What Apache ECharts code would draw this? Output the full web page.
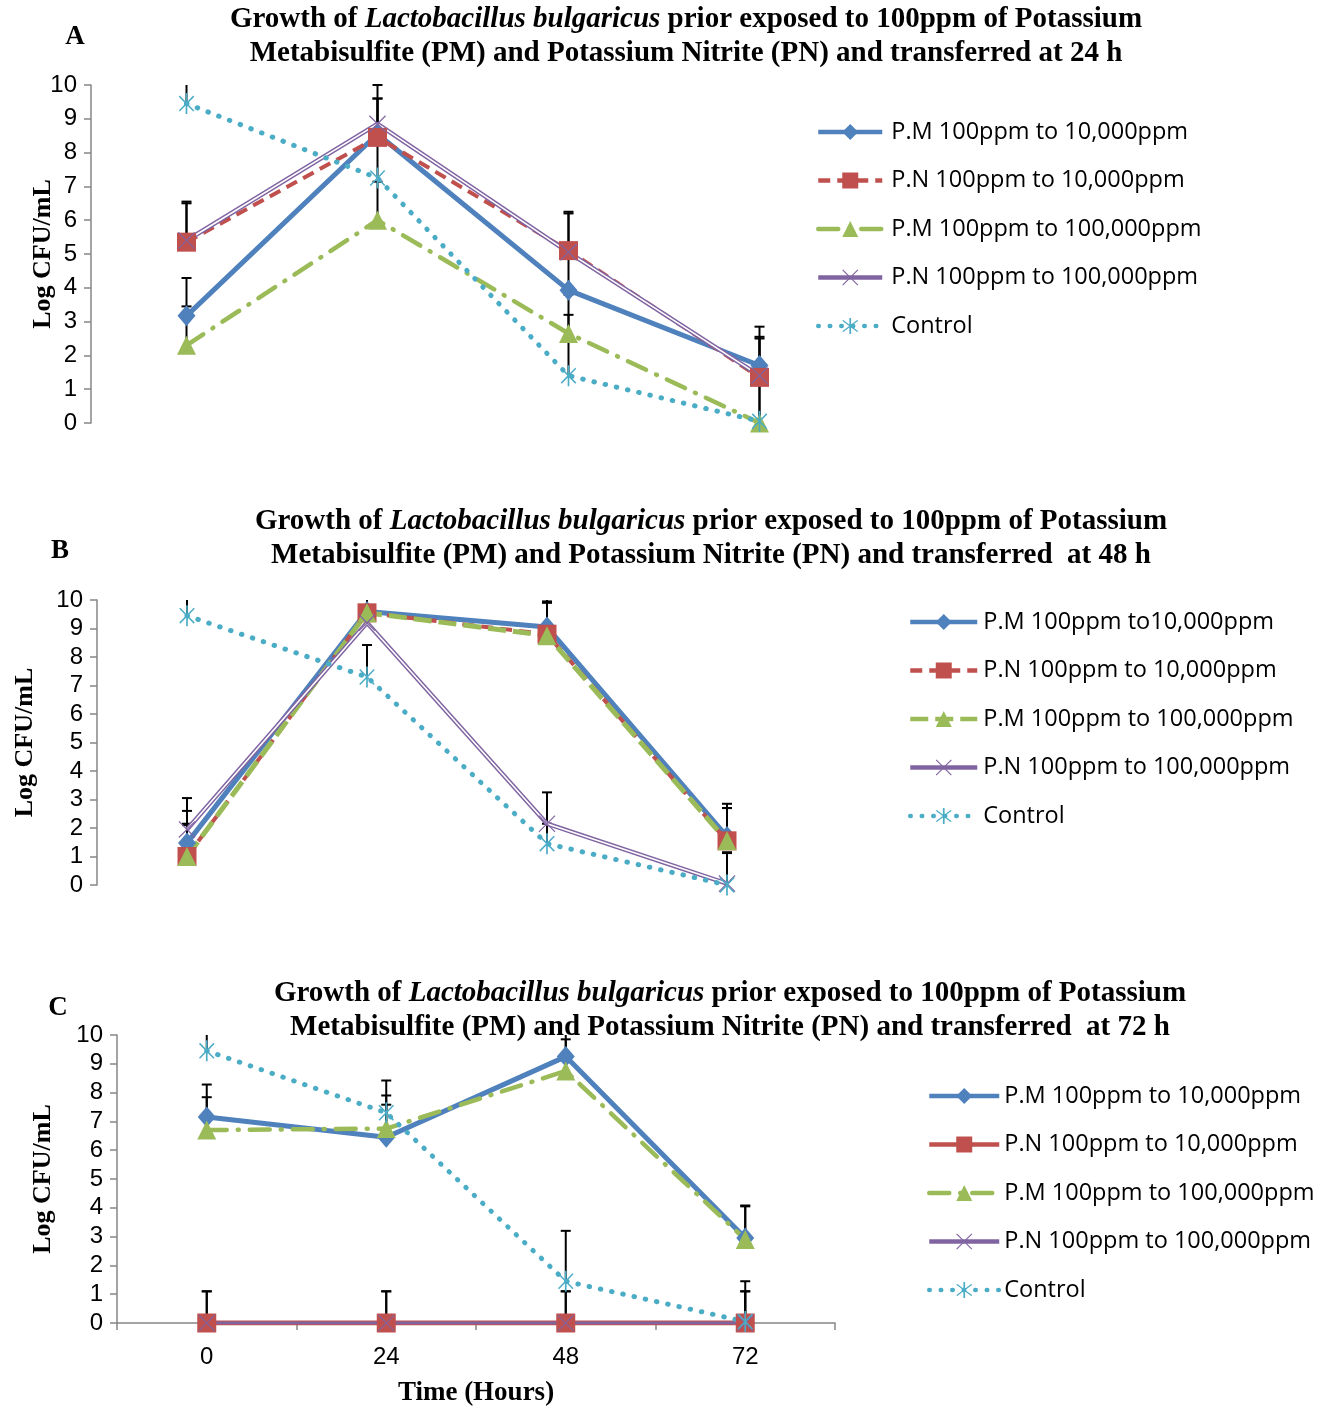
<!DOCTYPE html>
<html>
<head>
<meta charset="utf-8">
<script src="https://cdn.jsdelivr.net/npm/echarts@6/dist/echarts.min.js"></script>
<style>
  html, body { margin: 0; padding: 0; background: #fff; }
  #chart { width: 1332px; height: 1408px; }
</style>
</head>
<body>
<div id="chart"></div>
<script>
const hours = ['0', '24', '48', '72']
const yTicks = [0, 1, 2, 3, 4, 5, 6, 7, 8, 9, 10]

const namesA = ['P.M 100ppm to 10,000ppm', 'P.N 100ppm to 10,000ppm', 'P.M 100ppm to 100,000ppm', 'P.N 100ppm to 100,000ppm', 'Control']
const namesB = ['P.M 100ppm to10,000ppm', 'P.N 100ppm to 10,000ppm', 'P.M 100ppm to 100,000ppm', 'P.N 100ppm to 100,000ppm', 'Control']
const namesC = namesA

// panel A: transferred at 24 h
const aPM10k   = [3.17, 8.55, 3.93, 1.7]
const aPN10k   = [5.35, 8.45, 5.1, 1.35]
const aPM100k  = [2.3, 6.0, 2.65, 0]
const aPN100k  = [5.4, 8.85, 5.05, 1.4]
const aControl = [9.45, 7.25, 1.4, 0.05]
const aPM10kErr   = [1.12, 1.05, 1.12, 1.15]
const aPN10kErr   = [1.15, 1.15, 1.15, 1.15]
const aPM100kErr  = [1.15, 1.14, 1.15, 1.15]
const aPN100kErr  = [1.15, 1.15, 1.15, 1.15]
const aControlErr = [1.15, 1.15, 1.8, 1.15]

// panel B: transferred at 48 h
const bPM10k   = [1.47, 9.6, 9.05, 1.7]
const bPN10k   = [1.0, 9.55, 8.8, 1.55]
const bPM100k  = [1.0, 9.55, 8.75, 1.55]
const bPN100k  = [1.95, 9.2, 2.15, 0.05]
const bControl = [9.45, 7.3, 1.45, 0]
const bPM10kErr   = [1.13, 1.15, 1.15, 1.15]
const bPN10kErr   = [1.15, 1.15, 1.15, 1.15]
const bPM100kErr  = [1.1, 1.15, 1.15, 1.15]
const bPN100kErr  = [1.1, 1.15, 1.1, 1.1]
const bControlErr = [1.15, 1.12, 0.7, 1.12]

// panel C: transferred at 72 h
const cPM10k   = [7.15, 6.45, 9.25, 2.95]
const cPN10k   = [0, 0, 0, 0]
const cPM100k  = [6.7, 6.75, 8.75, 2.9]
const cPN100k  = [0, 0, 0, 0]
const cControl = [9.45, 7.3, 1.45, 0.05]
const cPM10kErr   = [1.13, 1.13, 1.15, 1.13]
const cPN10kErr   = [1.1, 1.1, 1.1, 1.1]
const cPM100kErr  = [1.14, 1.15, 1.1, 1.15]
const cPN100kErr  = [1.1, 1.1, 1.1, 1.1]
const cControlErr = [1.15, 1.12, 1.75, 1.4]

const BLUE = '#4F81BD', RED = '#C0504D', GREEN = '#9BBB59', PURPLE = '#8064A2', CYAN = '#4BACC6'
const SERIF = '"Liberation Serif", "Times New Roman", serif'
const SANS = '"Open Sans", "Liberation Sans", sans-serif'
const YMAX = 10

const X_PATH = 'path://M0,1L1,0L20,19L19,20ZM19,0L20,1L1,20L0,19Z'
const STAR_PATH = 'path://M9.2,0L10.8,0L10.8,20L9.2,20ZM2.6,3.4L3.6,2.4L17.4,16.6L16.4,17.6ZM16.4,2.4L17.4,3.4L3.6,17.6L2.6,16.6Z'

function errRender(params, api) {
  const x = api.value(0), y = api.value(1), e = api.value(2)
  const top = Math.min(y + e, YMAX)
  const p0 = api.coord([x, y])
  const p1 = api.coord([x, top])
  const kids = [{ type: 'line', shape: { x1: p0[0], y1: p0[1], x2: p1[0], y2: p1[1] }, style: { stroke: '#000', lineWidth: 2 } }]
  if (y + e <= YMAX) {
    kids.push({ type: 'line', shape: { x1: p1[0] - 5, y1: p1[1], x2: p1[0] + 5, y2: p1[1] }, style: { stroke: '#000', lineWidth: 2 } })
  }
  return { type: 'group', children: kids }
}

function errSeries(idx, vals, errs) {
  return {
    type: 'custom', xAxisIndex: idx, yAxisIndex: idx, z: 1,
    renderItem: errRender,
    data: vals.map((v, i) => [i, v, errs[i]]),
    silent: true,
  }
}

function lineSeries(idx, name, data, color, symbol, size, lineStyle) {
  return {
    type: 'line', name, data, xAxisIndex: idx, yAxisIndex: idx, z: 2,
    symbol, symbolSize: size, symbolKeepAspect: true,
    itemStyle: { color },
    lineStyle: Object.assign({ color }, lineStyle),
  }
}

function panelSeries(idx, p, names, vals, errs, styles) {
  const out = []
  vals.forEach((v, k) => out.push(errSeries(idx, v, errs[k])))
  out.push(lineSeries(idx, p + names[0], vals[0], BLUE, 'diamond', [18, 21], { width: 5 }))
  out.push(lineSeries(idx, p + names[1], vals[1], RED, 'rect', 19, styles.red))
  out.push(lineSeries(idx, p + names[2], vals[2], GREEN, 'triangle', 19, styles.green))
  out.push(lineSeries(idx, p + names[3], vals[3], PURPLE, X_PATH, 17, { width: styles.purpleWidth }))
  if (styles.doubleLine) {
    out.push({
      type: 'line', name: p + 'inner', data: vals[3], xAxisIndex: idx, yAxisIndex: idx, z: 2,
      showSymbol: false, lineStyle: { color: '#fff', width: 1.6 }, silent: true,
    })
  }
  out.push(lineSeries(idx, p + names[4], vals[4], CYAN, STAR_PATH, 21, { width: 5, type: [0.5, 11], cap: 'round' }))
  return out
}

const dashed = { width: 4, type: [12, 7] }
const dashDot = { width: 4.5, type: [20, 11, 1, 11], cap: 'round' }
const longDash = { width: 5, type: [18, 7] }

const series = [].concat(
  panelSeries(0, 'A|', namesA, [aPM10k, aPN10k, aPM100k, aPN100k, aControl],
    [aPM10kErr, aPN10kErr, aPM100kErr, aPN100kErr, aControlErr],
    { red: dashed, green: dashDot, purpleWidth: 4.5, doubleLine: true }),
  panelSeries(1, 'B|', namesB, [bPM10k, bPN10k, bPM100k, bPN100k, bControl],
    [bPM10kErr, bPN10kErr, bPM100kErr, bPN100kErr, bControlErr],
    { red: dashed, green: longDash, purpleWidth: 4.5, doubleLine: true }),
  panelSeries(2, 'C|', namesC, [cPM10k, cPN10k, cPM100k, cPN100k, cControl],
    [cPM10kErr, cPN10kErr, cPM100kErr, cPN100kErr, cControlErr],
    { red: { width: 5 }, green: dashDot, purpleWidth: 3, doubleLine: false })
)

const titleStyle = {
  fontFamily: SERIF, fontSize: 29, fontWeight: 'bold', color: '#000', lineHeight: 34,
  rich: { i: { fontFamily: SERIF, fontSize: 29, fontWeight: 'bold', fontStyle: 'italic', color: '#000', lineHeight: 34 } },
}
function titleText(h) {
  return 'Growth of {i|Lactobacillus bulgaricus} prior exposed to 100ppm of Potassium\n' +
    'Metabisulfite (PM) and Potassium Nitrite (PN) and transferred ' + h
}
function letter(t, x, y) {
  return { text: t, left: x, top: y, textAlign: 'center', padding: 0,
    textStyle: { fontFamily: SERIF, fontSize: 27, fontWeight: 'bold', color: '#000' } }
}

function yAxis(idx, gap) {
  return {
    type: 'value', gridIndex: idx, min: 0, max: 10, interval: 1,
    name: 'Log CFU/mL', nameLocation: 'middle', nameGap: gap, nameMoveOverlap: false,
    nameTextStyle: { fontFamily: SERIF, fontSize: 26, fontWeight: 'bold', color: '#000' },
    axisLine: { show: true, lineStyle: { color: '#868686', width: 1.5 } },
    axisTick: { show: true, length: 7, lineStyle: { color: '#868686', width: 1.5 } },
    axisLabel: { fontFamily: '"Liberation Sans", sans-serif', fontSize: 24, color: '#000', margin: 14,
      formatter: v => yTicks.includes(v) ? String(v) : '' },
    splitLine: { show: false },
  }
}
function xAxis(idx, visible) {
  const ax = {
    type: 'category', gridIndex: idx, data: hours, boundaryGap: true,
    axisLine: { show: visible, lineStyle: { color: '#868686', width: 1.5 } },
    axisTick: { show: visible, length: 7, lineStyle: { color: '#868686', width: 1.5 } },
    axisLabel: { show: visible, fontFamily: '"Liberation Sans", sans-serif', fontSize: 24, color: '#000', margin: 22 },
    splitLine: { show: false },
  }
  if (visible) {
    ax.name = 'Time (Hours)'
    ax.nameLocation = 'middle'
    ax.nameGap = 57
    ax.nameTextStyle = { fontFamily: SERIF, fontSize: 27, fontWeight: 'bold', color: '#000' }
  }
  return ax
}
function legend(p, names, left, top, w, pad) {
  return {
    data: names.map(n => p + n), formatter: n => n.slice(2),
    orient: 'vertical', left, top, padding: 0,
    itemWidth: w, itemHeight: 20, itemGap: 24.5, selectedMode: false,
    lineStyle: { width: 4.5 },
    textStyle: { fontFamily: SANS, fontSize: 23.5, color: '#000', lineHeight: 20, padding: [0, 0, 0, pad] },
  }
}

const chart = echarts.init(document.getElementById('chart'))
chart.setOption({
  backgroundColor: '#fff',
  animation: false,
  title: [
    { text: titleText('at 24 h'), left: 686, top: 3, textAlign: 'center', padding: 0, textStyle: titleStyle },
    { text: titleText(' at 48 h'), left: 711, top: 505, textAlign: 'center', padding: 0, textStyle: titleStyle },
    { text: titleText(' at 72 h'), left: 730, top: 977, textAlign: 'center', padding: 0, textStyle: titleStyle },
    letter('A', 75, 24), letter('B', 60, 538), letter('C', 58, 995),
  ],
  legend: [
    legend('A|', namesA, 816, 120, 64, 4),
    legend('B|', namesB, 908, 610, 67, 1),
    legend('C|', namesC, 927, 1084, 70, 0),
  ],
  grid: [
    { left: 91, top: 85, width: 764, height: 338 },
    { left: 97, top: 600, width: 720, height: 285 },
    { left: 117, top: 1035, width: 718, height: 288 },
  ],
  xAxis: [xAxis(0, false), xAxis(1, false), xAxis(2, true)],
  yAxis: [yAxis(0, 35), yAxis(1, 59), yAxis(2, 61)],
  series,
})
</script>
</body>
</html>
